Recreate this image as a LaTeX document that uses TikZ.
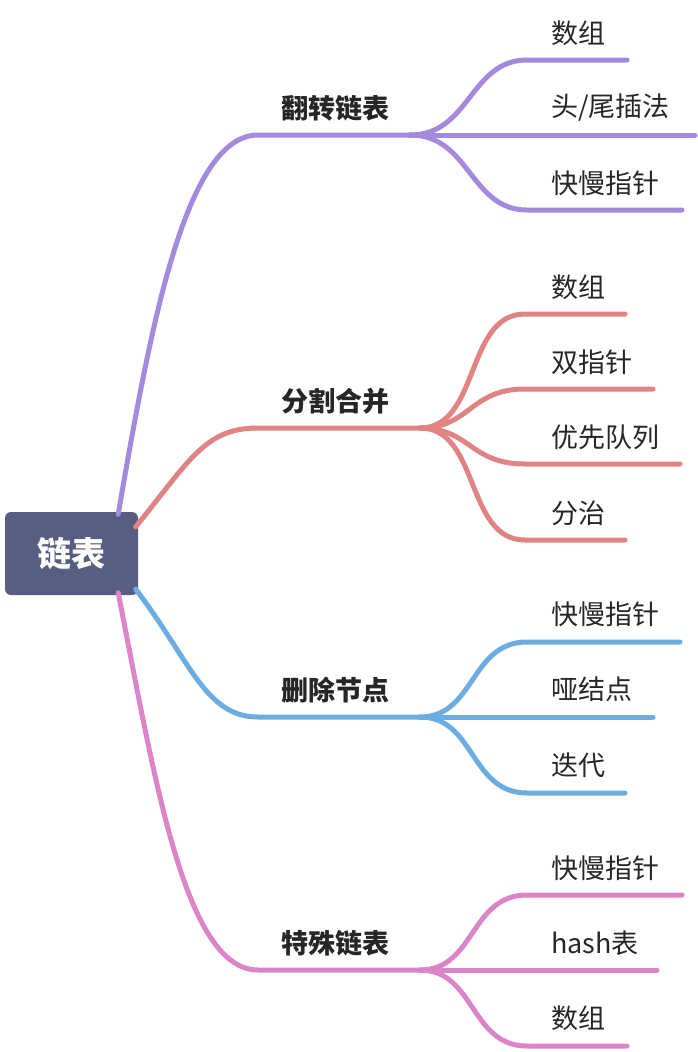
\documentclass[tikz,border=0pt]{standalone}
\usepackage{fontspec}
\newfontfamily\cjk{Noto Sans CJK SC}
\usepackage{tikz}
\definecolor{rootC}{RGB}{88,94,130}
\definecolor{fzC}{RGB}{164,137,220}
\definecolor{fgC}{RGB}{226,131,131}
\definecolor{scC}{RGB}{107,173,224}
\definecolor{tsC}{RGB}{219,132,200}
\definecolor{txtC}{RGB}{38,38,38}
\tikzset{rootbox/.style={fill=rootC,rounded corners=6pt,minimum width=133pt,minimum height=83pt,
   text=white,font=\cjk\bfseries\fontsize{34}{34}\selectfont},
 topic/.style={anchor=west,inner sep=0pt,text=txtC,font=\cjk\bfseries\fontsize{27}{27}\selectfont},
 leaf/.style={anchor=west,inner sep=0pt,text=txtC,font=\cjk\fontsize{27}{27}\selectfont},
 branch/.style={line width=5pt,line cap=round},
 every picture/.style={line join=round,line cap=round}}

\begin{document}
\begin{tikzpicture}[x=1pt,y=-1pt]
\useasboundingbox (0,0) rectangle (698,1052);
\node[rootbox] (root) at (71.5,553.5) {链表};
% 翻转链表
\coordinate (fzIn) at (258,135);
\coordinate (fzOut) at (410,135);
\node[topic] (fz) at (281,108) {翻转链表};
\draw[branch,fzC] ([xshift=-20pt,yshift=-2.5pt]root.north east) .. controls (150,330) and (185,135) .. (fzIn) -- (fzOut);
\coordinate (fz1) at (627,60);
\coordinate (fz2) at (695,135);
\coordinate (fz3) at (682,210);
\draw[branch,fzC] (fzOut) .. controls (470,135) and (470,60) .. (527,60) -- (fz1);
\draw[branch,fzC] (fzOut) -- (fz2);
\draw[branch,fzC] (fzOut) .. controls (470,135) and (470,210) .. (527,210) -- (fz3);
\node[leaf] at (551,33) {数组};
\node[leaf] at (551,108) {头/尾插法};
\node[leaf] at (551,183) {快慢指针};
% 分割合并
\coordinate (fgIn) at (258,428);
\coordinate (fgOut) at (420,428);
\node[topic] (fg) at (281,401) {分割合并};
\draw[branch,fgC] ([xshift=-2.5pt,yshift=-15pt]root.north east) .. controls (190,460) and (205,428) .. (fgIn) -- (fgOut);
\coordinate (fg1) at (625,314);
\coordinate (fg2) at (653,389);
\coordinate (fg3) at (680,464);
\coordinate (fg4) at (625,540);
\draw[branch,fgC] (fgOut) .. controls (480,428) and (465,314) .. (525,314) -- (fg1);
\draw[branch,fgC] (fgOut) .. controls (470,428) and (470,389) .. (525,389) -- (fg2);
\draw[branch,fgC] (fgOut) .. controls (470,428) and (470,464) .. (525,464) -- (fg3);
\draw[branch,fgC] (fgOut) .. controls (480,428) and (465,540) .. (525,540) -- (fg4);
\node[leaf] at (551,287) {数组};
\node[leaf] at (551,362) {双指针};
\node[leaf] at (551,437) {优先队列};
\node[leaf] at (551,513) {分治};
% 删除节点
\coordinate (scIn) at (258,717);
\coordinate (scOut) at (420,717);
\node[topic] (sc) at (281,690) {删除节点};
\draw[branch,scC] ([xshift=-2.5pt,yshift=6pt]root.south east) .. controls (190,660) and (205,717) .. (scIn) -- (scOut);
\coordinate (sc1) at (680,642);
\coordinate (sc2) at (653,717);
\coordinate (sc3) at (625,793);
\draw[branch,scC] (scOut) .. controls (475,717) and (470,642) .. (527,642) -- (sc1);
\draw[branch,scC] (scOut) -- (sc2);
\draw[branch,scC] (scOut) .. controls (475,717) and (470,793) .. (527,793) -- (sc3);
\node[leaf] at (551,614) {快慢指针};
\node[leaf] at (551,689) {哑结点};
\node[leaf] at (551,765) {迭代};
% 特殊链表
\coordinate (tsIn) at (258,970);
\coordinate (tsOut) at (420,970);
\node[topic] (ts) at (281,943) {特殊链表};
\draw[branch,tsC] ([xshift=-20pt,yshift=2.5pt]root.south east) .. controls (155,780) and (185,970) .. (tsIn) -- (tsOut);
\coordinate (ts1) at (682,895);
\coordinate (ts2) at (657,970);
\coordinate (ts3) at (627,1046);
\draw[branch,tsC] (tsOut) .. controls (475,970) and (470,895) .. (527,895) -- (ts1);
\draw[branch,tsC] (tsOut) -- (ts2);
\draw[branch,tsC] (tsOut) .. controls (475,970) and (470,1046) .. (527,1046) -- (ts3);
\node[leaf] at (551,868) {快慢指针};
\node[leaf] at (551,943) {hash表};
\node[leaf] at (551,1018) {数组};
\end{tikzpicture}
\end{document}
